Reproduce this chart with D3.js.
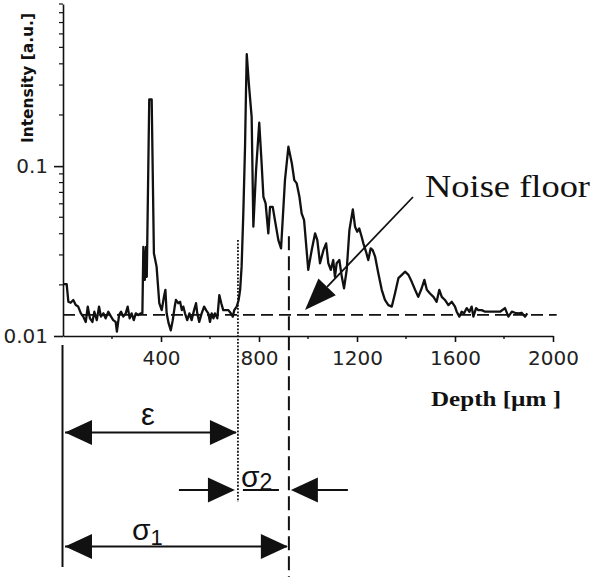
<!DOCTYPE html>
<html><head><meta charset="utf-8">
<script src="https://cdn.jsdelivr.net/npm/d3@7"></script>
<style>body{margin:0;background:#fff}svg{display:block}</style></head>
<body><svg id="c" width="600" height="577"></svg>
<script>
// ---- data ----
const depth = [1,15,22,31,42,52,62,73,83,93,101,110,120,128,138,147,155,165,174,185,196,205,215,220,229,237,246,256,264,272,280,289,297,307,318,324,
328,334,339,342,352,362,371,382,393,403,412,418,423,431,440,448,456,461,471,478,485,491,498,507,516,525,535,543,548,556,
566,576,584,593,600,607,614,620,630,638,646,654,665,675,685,693,699,709,717,723,729,736,743,747,750,759,770,777,788,801,
810,818,827,838,845,856,865,879,890,906,920,934,944,954,965,974,984,992,1001,1015,1029,1038,1049,1063,1074,1083,1093,1103,1110,1117,
1128,1138,1147,1158,1169,1183,1192,1201,1209,1219,1226,1237,1246,1256,1264,1274,1287,1301,1314,1328,1342,1355,1369,1383,1396,1410,1423,1437,1450,1464,
1475,1485,1498,1512,1525,1536,1546,1559,1573,1587,1600,1607,1618,1627,1637,1648,1659,1668,1675,1686,1695,1709,1723,1743,1763,1784,1804,1818,1832,1845,
1859,1872,1886,1895];
const intensity = [0.0202,0.0202,0.0159,0.0157,0.0163,0.0152,0.0149,0.0136,0.0130,0.0121,0.0149,0.0127,0.0121,0.0139,0.0124,0.0149,0.0130,0.0136,0.0127,0.0139,
0.0130,0.0124,0.0121,0.0106,0.0133,0.0139,0.0130,0.0136,0.0149,0.0127,0.0136,0.0124,0.0136,0.0133,0.0136,0.0136,
0.0335,0.0214,0.0335,0.0223,0.247,0.247,0.0307,0.0256,0.0156,0.0142,
0.0170,0.0187,0.0136,0.0119,0.0108,0.0124,0.0149,0.0163,0.0156,0.0159,
0.0142,0.0149,0.0136,0.0124,0.0136,0.0124,0.0142,0.0156,0.0136,0.0121,
0.0136,0.0149,0.0142,0.0136,0.0121,0.0136,0.0127,0.0136,0.0127,0.0174,
0.0156,0.0142,0.0142,0.0142,0.0136,0.0130,0.0142,0.0149,0.0163,0.0187,
0.0256,0.0529,0.130,0.280,0.456,0.300,0.195,0.0440,0.0947,0.180,
0.108,0.0660,0.0603,0.0402,0.0576,0.0576,0.0481,0.0367,0.0328,0.0827,
0.130,0.104,0.0827,0.0791,0.0660,0.0527,0.0481,0.0351,0.0245,0.0320,
0.0402,0.0367,0.0268,0.0320,0.0351,0.0268,0.0245,0.0280,0.0223,0.0268,
0.0280,0.0223,0.0191,0.0245,0.0420,0.0556,0.0440,0.0411,0.0430,0.0384,
0.0351,0.0313,0.0280,0.0328,0.0320,0.0293,0.0234,0.0187,0.0163,0.0152,
0.0149,0.0178,0.0219,0.0229,0.0239,0.0229,0.0209,0.0187,0.0170,0.0191,
0.0214,0.0187,0.0178,0.0170,0.0159,0.0187,0.0170,0.0163,0.0152,0.0159,
0.0149,0.0139,0.0130,0.0139,0.0136,0.0146,0.0139,0.0149,0.0130,0.0146,
0.0142,0.0142,0.0139,0.0139,0.0139,0.0139,0.0146,0.0130,0.0139,0.0137,
0.0136,0.0137,0.0130,0.0136];
const noiseFloor = 0.0133;
const noiseEnd = 2015;
const epsDepth = 714;      // dotted line
const sigma1Depth = 922;   // dashed line
const epsTop = 0.0367, sigmaTop = 0.0387;
const xTicks = [400, 800, 1200, 1600, 2000];
const xMinor = [200, 600, 1000, 1400, 1800];
const yTicks = [0.01, 0.1];
const yTickLabels = ["0.01", "0.1"];
const yMinor = [0.02,0.03,0.04,0.05,0.06,0.07,0.08,0.09,0.2,0.3,0.4,0.5,0.6,0.7,0.8,0.9];
const xTitle = "Depth [\u00b5m ]";
const yTitle = "Intensity [a.u.]";
const noiseLabel = "Noise floor";

// ---- chart ----
const svg = d3.select("#c");
const ink = "#111";
const x = d3.scaleLinear().domain([0, 2000]).range([63, 553]);
const y = d3.scaleLog().domain([0.01, 0.9]).range([336, 4]);
const data = depth.map((d, i) => ({d, v: intensity[i]}));

const ax = svg.append("g").attr("transform", "translate(0,336)")
  .call(d3.axisBottom(x).tickValues(xTicks).tickSize(6).tickSizeOuter(0).tickPadding(9).tickFormat(d3.format("d")));
ax.selectAll("text").attr("font-family", "DejaVu Sans").attr("font-size", 20).attr("fill", "#222");
ax.selectAll("line,path").attr("stroke", ink).attr("stroke-width", 1.6);
ax.selectAll(".minor").data(xMinor).join("line").attr("class", "minor")
  .attr("x1", d => x(d)).attr("x2", d => x(d)).attr("y1", 0).attr("y2", 3)
  .attr("stroke", ink).attr("stroke-width", 1.4);

const ay = svg.append("g").attr("transform", "translate(63,0)")
  .call(d3.axisLeft(y).tickValues(yTicks).tickSize(9).tickSizeOuter(0).tickPadding(6)
    .tickFormat((d, i) => yTickLabels[i]));
ay.selectAll("text").attr("font-family", "DejaVu Sans").attr("font-size", 20).attr("fill", "#222");
ay.selectAll("line,path").attr("stroke", ink).attr("stroke-width", 1.6);
ay.selectAll(".minor").data(yMinor).join("line").attr("class", "minor")
  .attr("x1", -4).attr("x2", 0).attr("y1", d => y(d)).attr("y2", d => y(d))
  .attr("stroke", ink).attr("stroke-width", 1.2);

svg.append("text").attr("transform", "translate(33,78) rotate(-90)")
  .attr("text-anchor", "middle").attr("font-family", "DejaVu Sans").attr("font-weight", "bold")
  .attr("font-size", 15.5).attr("fill", ink).attr("textLength", 130).attr("lengthAdjust", "spacingAndGlyphs")
  .text(yTitle);
svg.append("text").attr("x", 431).attr("y", 406)
  .attr("font-family", "Liberation Serif").attr("font-weight", "bold")
  .attr("font-size", 21).attr("fill", ink).attr("textLength", 130).attr("lengthAdjust", "spacingAndGlyphs")
  .text(xTitle);

// noise floor
svg.append("line").attr("x1", x(0)).attr("x2", x(noiseEnd)).attr("y1", y(noiseFloor)).attr("y2", y(noiseFloor))
  .attr("stroke", ink).attr("stroke-width", 1.8).attr("stroke-dasharray", "12,6");

// curve
svg.append("path").datum(data)
  .attr("d", d3.line().x(p => x(p.d)).y(p => y(p.v)))
  .attr("fill", "none").attr("stroke", ink).attr("stroke-width", 2.3).attr("stroke-linejoin", "round");

// vertical guides
svg.append("line").attr("x1", x(epsDepth)).attr("x2", x(epsDepth)).attr("y1", y(epsTop)).attr("y2", 502)
  .attr("stroke", ink).attr("stroke-width", 1.8).attr("stroke-dasharray", "1.8,1.6");
svg.append("line").attr("x1", x(sigma1Depth)).attr("x2", x(sigma1Depth)).attr("y1", y(sigmaTop)).attr("y2", 577)
  .attr("stroke", ink).attr("stroke-width", 2).attr("stroke-dasharray", "14,6");
svg.append("line").attr("x1", x(0) - 0.5).attr("x2", x(0) - 0.5).attr("y1", 345).attr("y2", 567)
  .attr("stroke", ink).attr("stroke-width", 2);

// arrows
function head(tipX, yy, dir) { // dir: +1 points right, -1 points left
  const L = 27, H = 12.5;
  svg.append("path").attr("d", `M${tipX},${yy}L${tipX - dir * L},${yy - H}L${tipX - dir * L},${yy + H}Z`).attr("fill", ink);
}
function hline(x1, x2, yy) {
  svg.append("line").attr("x1", x1).attr("x2", x2).attr("y1", yy).attr("y2", yy).attr("stroke", ink).attr("stroke-width", 1.8);
}
const yEps = 432.5, ySig2 = 490, ySig1 = 546.5;
hline(x(0) + 2, x(epsDepth) - 2, yEps); head(x(0) + 2, yEps, -1); head(x(epsDepth) - 1, yEps, 1);
hline(x(0) + 2, x(sigma1Depth) - 2, ySig1); head(x(0) + 2, ySig1, -1); head(x(sigma1Depth) - 1, ySig1, 1);
hline(x(epsDepth) - 59, x(epsDepth) - 10, ySig2); head(x(epsDepth) - 3, ySig2, 1);
hline(x(sigma1Depth) + 10, x(sigma1Depth) + 59, ySig2); head(x(sigma1Depth) + 2, ySig2, -1);
hline(x(epsDepth) + 5, x(epsDepth) + 41, ySig2);

// noise-floor pointer
(function () {
  const x1 = 413, y1 = 197, x2 = 305, y2 = 310;
  const ang = Math.atan2(y2 - y1, x2 - x1), L = 32, H = 12;
  const bx = x2 - L * Math.cos(ang), by = y2 - L * Math.sin(ang);
  svg.append("line").attr("x1", x1).attr("y1", y1).attr("x2", bx).attr("y2", by).attr("stroke", ink).attr("stroke-width", 1.8);
  const px = -Math.sin(ang) * H, py = Math.cos(ang) * H;
  svg.append("path").attr("d", `M${x2},${y2}L${bx + px},${by + py}L${bx - px},${by - py}Z`).attr("fill", ink);
})();
svg.append("text").attr("x", 425).attr("y", 197).attr("font-family", "Liberation Serif")
  .attr("font-size", 32).attr("fill", ink).attr("textLength", 165).attr("lengthAdjust", "spacingAndGlyphs").text(noiseLabel);

// greek labels
const g = svg.append("g").attr("font-family", "Liberation Sans").attr("fill", ink);
g.append("text").attr("x", 148).attr("y", 425).attr("text-anchor", "middle").attr("font-size", 31).text("\u03b5");
const s1 = g.append("text").attr("x", 132).attr("y", 540).attr("font-size", 30);
s1.append("tspan").text("\u03c3");
s1.append("tspan").attr("dy", 5).attr("font-size", 22).text("1");
const s2 = g.append("text").attr("x", 241).attr("y", 487).attr("font-size", 30);
s2.append("tspan").text("\u03c3");
s2.append("tspan").attr("dy", 3).attr("font-size", 23).text("2");
</script></body></html>
